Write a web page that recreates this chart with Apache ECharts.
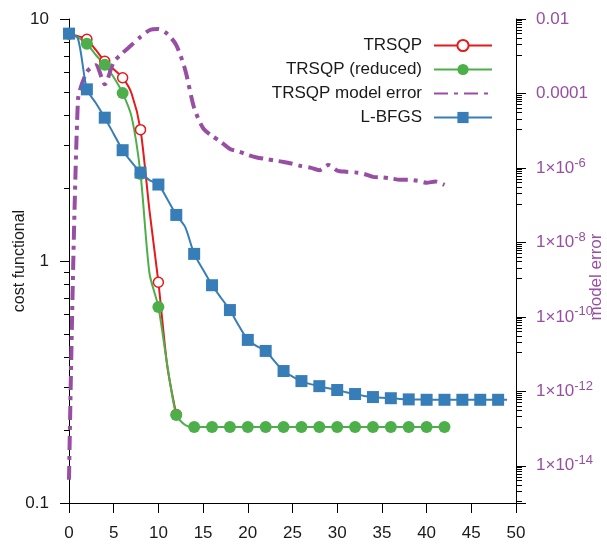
<!DOCTYPE html>
<html>
<head>
<meta charset="utf-8">
<script src="https://cdn.jsdelivr.net/npm/echarts@6/dist/echarts.min.js"></script>
<style>
  html, body { margin: 0; padding: 0; background: #fff; }
  #chart { width: 607px; height: 544px; }
</style>
</head>
<body>
<div id="chart"></div>
<script>
// cost functional per iteration (index = iteration)
const trsqp = [8.7, 8.5, 8.24, 7.45, 6.69, 6.2, 5.72, 4.92, 3.49, 1.62, 0.817, 0.366, 0.232]
const trsqpReduced = [8.7, 8.4, 7.9, 7.1, 6.47, 5.75, 4.94, 3.95, 2.29, 0.89, 0.645, 0.37, 0.231, 0.21,
  0.206, 0.206, 0.206, 0.206, 0.206, 0.206, 0.206, 0.206, 0.206, 0.206, 0.206, 0.206, 0.206, 0.206, 0.206,
  0.206, 0.206, 0.206, 0.206, 0.206, 0.206, 0.206, 0.206, 0.206, 0.206, 0.206, 0.206, 0.206, 0.206]
const lbfgs = [8.7, 8.3, 5.12, 4.5, 3.91, 3.35, 2.87, 2.56, 2.32, 2.16, 2.07, 1.8, 1.55, 1.38, 1.07, 0.92,
  0.794, 0.705, 0.627, 0.54, 0.472, 0.445, 0.425, 0.385, 0.351, 0.333, 0.319, 0.31, 0.304, 0.298, 0.293,
  0.287, 0.282, 0.277, 0.274, 0.272, 0.271, 0.269, 0.268, 0.268, 0.267, 0.267, 0.267, 0.267, 0.267, 0.267,
  0.267, 0.267, 0.267, 0.267]
// model error (right axis)
const modelError = [4.2e-15, 6.6e-5, 3.8e-4, 5.75e-4, 1.78e-4, 7.0e-4, 1.23e-3, 2.0e-3, 3.31e-3, 5.0e-3,
  5.37e-3, 3.98e-3, 2.0e-3, 4.27e-4, 4.07e-5, 1.17e-5, 7.24e-6, 5.0e-6, 3.24e-6, 2.75e-6, 2.24e-6,
  1.91e-6, 1.74e-6, 1.58e-6, 1.45e-6, 1.29e-6, 1.12e-6, 1.02e-6, 8.7e-7, 1.2e-6, 8.5e-7, 7.9e-7,
  7.6e-7, 6.9e-7, 5.75e-7, 5.6e-7, 5.25e-7, 4.8e-7, 4.8e-7, 4.5e-7, 4.0e-7, 4.3e-7, 3.5e-7]

const xTicks = [0, 5, 10, 15, 20, 25, 30, 35, 40, 45, 50]

const RED = '#e41a1c', GREEN = '#4daf4a', PURPLE = '#984ea3', BLUE = '#377eb8'
const FONT = '"Liberation Sans", Arial, sans-serif'
const TEXT = '#1a1a1a'

// markers only on every second iteration
function points(values, symbol) {
  return values.map((v, i) => ({ value: [i, v], symbol: i % 2 === 0 ? symbol : 'none' }))
}

function errLabel(v) {
  const e = Math.round(Math.log10(v))
  if (e % 2 !== 0) return ''
  if (e === -2) return '0.01'
  if (e === -4) return '0.0001'
  return '1×10{sup|' + e + '}'
}

const chart = echarts.init(document.getElementById('chart'))
chart.setOption({
  animation: false,
  textStyle: { fontFamily: FONT },
  grid: { left: 69, right: 91, top: 19, bottom: 41, containLabel: false, outerBoundsMode: 'none' },
  legend: {
    orient: 'vertical',
    align: 'right',
    right: 109,
    top: 32,
    itemWidth: 58,
    itemHeight: 14,
    itemGap: 7,
    textStyle: { fontSize: 17, color: TEXT, fontFamily: FONT, padding: [0, 7, 0, 0] },
    data: ['TRSQP', 'TRSQP (reduced)',
      { name: 'TRSQP model error', itemStyle: { opacity: 0 } }, 'L-BFGS']
  },
  xAxis: {
    type: 'value',
    min: 0, max: 50, interval: 5,
    splitLine: { show: false },
    axisLine: { lineStyle: { color: '#000', width: 1 } },
    axisTick: { length: 10, lineStyle: { color: '#000' } },
    axisLabel: { fontSize: 17, color: TEXT, margin: 22,
      formatter: v => xTicks.includes(v) ? String(v) : '' }
  },
  yAxis: [{
    type: 'log',
    logBase: 10,
    min: 0.1, max: 10,
    name: 'cost functional',
    nameLocation: 'middle',
    nameGap: 41,
    nameRotate: 90,
    nameMoveOverlap: false,
    nameTextStyle: { fontSize: 16, color: TEXT },
    splitLine: { show: false },
    axisLine: { show: true, lineStyle: { color: '#000' } },
    axisTick: { length: 9, lineStyle: { color: '#000' } },
    minorTick: { show: true, splitNumber: 9, length: 5, lineStyle: { color: '#000' } },
    axisLabel: { fontSize: 17, color: TEXT, margin: 20 }
  }, {
    type: 'log',
    logBase: 100,
    min: 1e-15, max: 1e-2,
    position: 'right',
    name: 'model error',
    nameLocation: 'middle',
    nameGap: 72,
    nameRotate: 90,
    nameMoveOverlap: false,
    nameTextStyle: { fontSize: 17, color: PURPLE, padding: [0, 32, 0, 0] },
    splitLine: { show: false },
    axisLine: { show: true, lineStyle: { color: '#000' } },
    axisTick: { length: 10, lineStyle: { color: '#000' } },
    minorTick: { show: true, splitNumber: 10, length: 6, lineStyle: { color: '#000' } },
    axisLabel: {
      fontSize: 17, color: PURPLE, margin: 20,
      formatter: errLabel,
      rich: { sup: { fontSize: 13, color: PURPLE, padding: [0, 0, 10, 0] } }
    }
  }],
  series: [{
    name: 'TRSQP',
    type: 'line',
    data: points(trsqp, 'circle'),
    symbol: 'circle',
    symbolSize: 10,
    showAllSymbol: true,
    smooth: 0.25,
    lineStyle: { color: RED, width: 2 },
    itemStyle: { color: '#fff', borderColor: RED, borderWidth: 1.5 }
  }, {
    name: 'TRSQP (reduced)',
    type: 'line',
    data: points(trsqpReduced, 'circle'),
    symbol: 'circle',
    symbolSize: 12,
    showAllSymbol: true,
    smooth: 0.25,
    lineStyle: { color: GREEN, width: 2 },
    itemStyle: { color: GREEN, borderWidth: 0 }
  }, {
    name: 'TRSQP model error',
    type: 'line',
    yAxisIndex: 1,
    data: modelError.map((v, i) => [i, v]),
    symbol: 'none',
    smooth: 0.25,
    lineStyle: { color: PURPLE, width: 4, type: [14, 6, 4, 6] },
    itemStyle: { color: PURPLE }
  }, {
    name: 'L-BFGS',
    type: 'line',
    data: points(lbfgs, 'rect'),
    symbol: 'rect',
    symbolSize: 12,
    showAllSymbol: true,
    smooth: 0.25,
    lineStyle: { color: BLUE, width: 2 },
    itemStyle: { color: BLUE, borderWidth: 0 }
  }]
})
</script>
</body>
</html>
